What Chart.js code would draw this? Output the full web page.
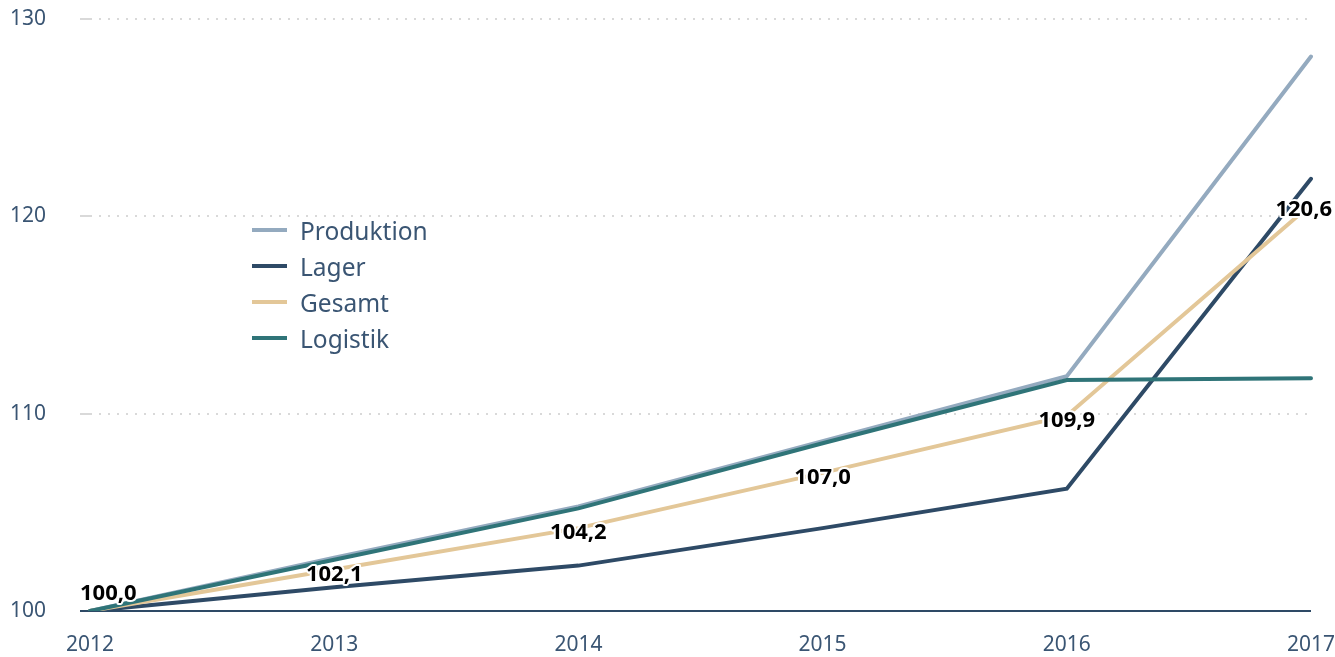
<!DOCTYPE html>
<html>
<head>
<meta charset="utf-8">
<script src="https://cdn.jsdelivr.net/npm/chart.js@4/dist/chart.umd.min.js"></script>
<style>
  html, body { margin: 0; padding: 0; background: #fff; }
  #wrap { position: relative; width: 1335px; height: 657px; }
  #legend { position: absolute; left: 252px; top: 212px; font-family: "Noto Sans", sans-serif; font-size: 24.5px; color: #3a5573; }
  #legend div { height: 36px; display: flex; align-items: center; }
  #legend span.sw { display: inline-block; width: 35px; height: 4px; margin-right: 13px; }
</style>
</head>
<body>
<div id="wrap">
  <canvas id="chart" width="1335" height="657"></canvas>
  <div id="legend"></div>
</div>
<script>
const years = ['2012', '2013', '2014', '2015', '2016', '2017'];
const produktion = [100.0, 102.7, 105.3, 108.6, 111.9, 128.1];
const lager = [100.0, 101.2, 102.3, 104.2, 106.2, 121.9];
const gesamt = [100.0, 102.1, 104.2, 107.0, 109.9, 120.6];
const logistik = [100.0, 102.6, 105.2, 108.5, 111.7, 111.8];
const yTicks = [100, 110, 120, 130];

const textColor = '#3a5573';
const darkLine = '#2e4a66';

// labels for the Gesamt line only, white halo behind black bold text
const valueLabels = {
  id: 'valueLabels',
  afterDatasetsDraw(chart) {
    const ctx = chart.ctx;
    const idx = chart.data.datasets.findIndex(d => d.label === 'Gesamt');
    const meta = chart.getDatasetMeta(idx);
    const area = chart.chartArea;
    ctx.save();
    ctx.font = 'bold 22px "Noto Sans", sans-serif';
    ctx.textAlign = 'center';
    ctx.textBaseline = 'middle';
    ctx.lineJoin = 'round';
    meta.data.forEach((pt, i) => {
      const txt = gesamt[i].toFixed(1).replace('.', ',');
      const w = ctx.measureText(txt).width;
      let x = pt.x;
      x = Math.max(x, area.left - 10 + w / 2);
      x = Math.min(x, chart.width - 3 - w / 2);
      let y = Math.min(pt.y + 5, area.bottom - 17);
      ctx.strokeStyle = '#fff';
      ctx.lineWidth = 4;
      ctx.strokeText(txt, x, y);
      ctx.fillStyle = '#000';
      ctx.fillText(txt, x, y);
    });
    ctx.restore();
  }
};

const series = [
  { label: 'Produktion', data: produktion, color: '#94aabf', order: 3 },
  { label: 'Lager', data: lager, color: '#2e4a66', order: 2 },
  { label: 'Gesamt', data: gesamt, color: '#e3c798', order: 1 },
  { label: 'Logistik', data: logistik, color: '#2f7478', order: 0 }
];

const chart = new Chart(document.getElementById('chart'), {
  type: 'line',
  data: {
    labels: years,
    datasets: series.map(s => ({
      label: s.label,
      data: s.data,
      borderColor: s.color,
      backgroundColor: s.color,
      borderWidth: 4,
      pointRadius: 0,
      tension: 0,
      borderCapStyle: 'round',
      order: s.order
    }))
  },
  options: {
    responsive: false,
    animation: false,
    layout: { padding: { left: 10, right: 24, top: 19, bottom: 0 } },
    plugins: {
      legend: { display: false },
      tooltip: { enabled: false }
    },
    scales: {
      x: {
        grid: { display: false, drawTicks: false },
        border: { display: false },
        ticks: {
          color: textColor,
          font: { family: '"Noto Sans", sans-serif', size: 21 },
          padding: 21,
          maxRotation: 0
        },
        afterFit(scale) {
          scale.height = 46;
          scale.paddingLeft = 0;
          scale.paddingRight = 0;
        }
      },
      y: {
        min: 100,
        max: 130,
        afterBuildTicks(scale) { scale.ticks = yTicks.map(v => ({ value: v })); },
        grid: {
          color: c => c.tick && c.tick.value === 100 ? darkLine : '#d9d9d9',
          lineWidth: 2,
          drawTicks: true,
          tickLength: 10
        },
        border: {
          display: false,
          dash: c => c.tick && c.tick.value === 100 ? [] : [2, 7]
        },
        ticks: {
          color: textColor,
          font: { family: '"Noto Sans", sans-serif', size: 21 },
          crossAlign: 'far',
          padding: 0
        },
        afterFit(scale) { scale.width = 80; }
      }
    }
  },
  plugins: [valueLabels]
});

// html legend built from the datasets
const legendEl = document.getElementById('legend');
chart.data.datasets.forEach(ds => {
  const row = document.createElement('div');
  const sw = document.createElement('span');
  sw.className = 'sw';
  sw.style.background = ds.borderColor;
  row.appendChild(sw);
  row.appendChild(document.createTextNode(ds.label));
  legendEl.appendChild(row);
});
</script>
</body>
</html>
